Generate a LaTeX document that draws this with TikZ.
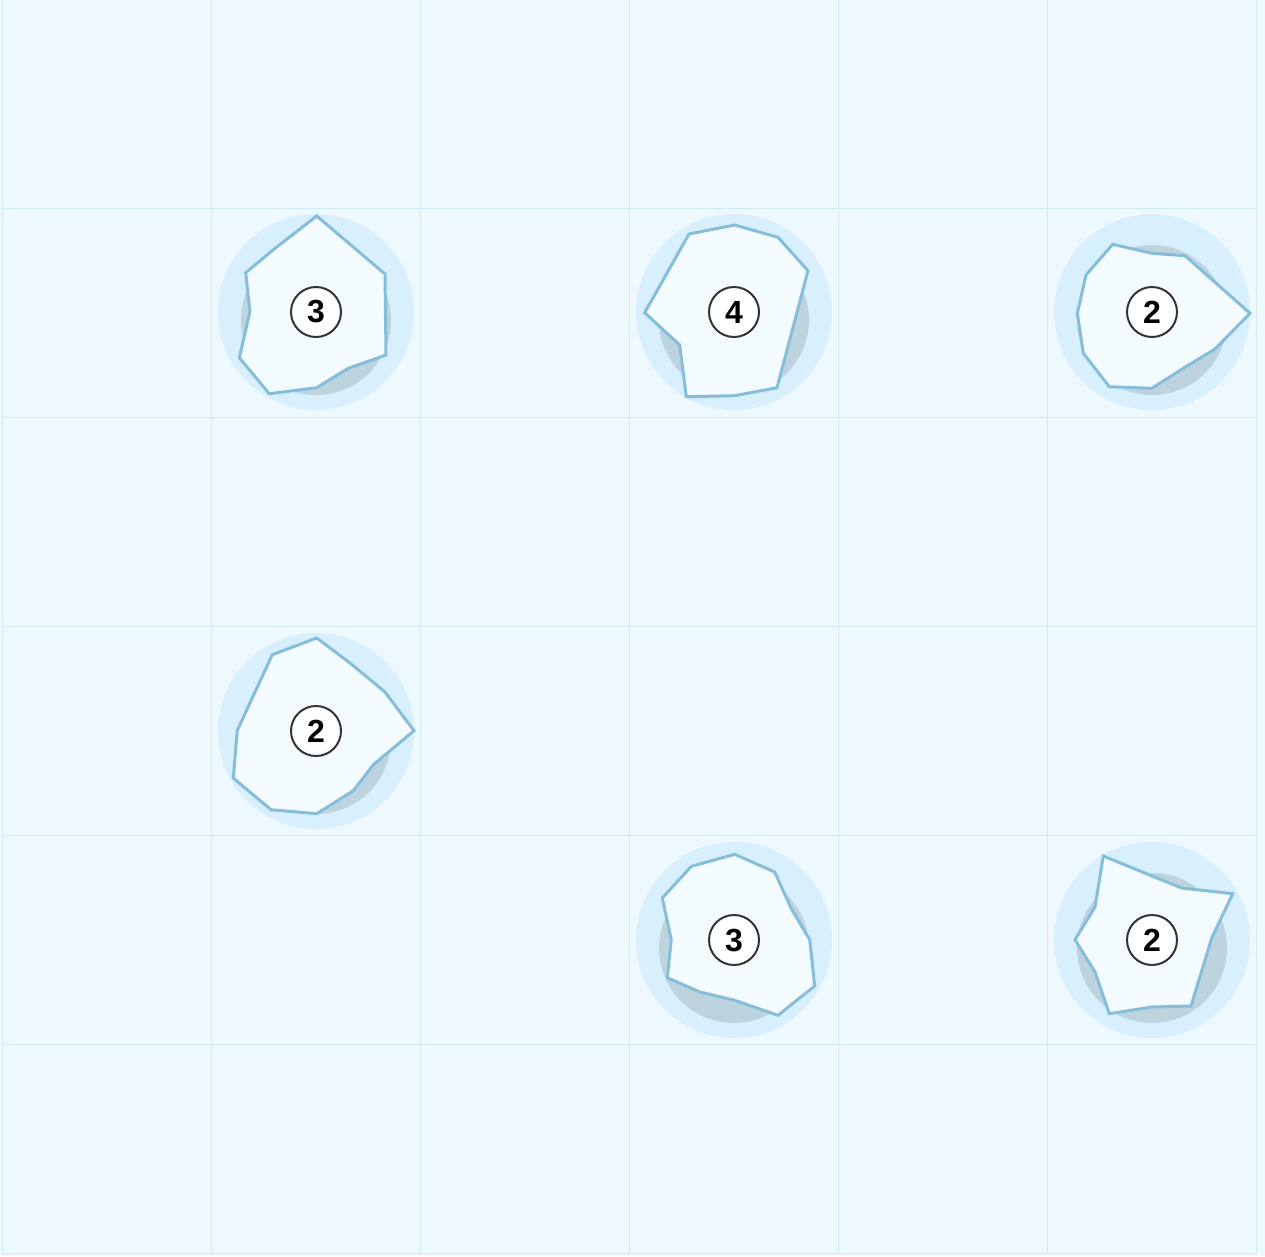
\documentclass[tikz,border=0pt]{standalone}
\usepackage{fontspec}
\setmainfont{Liberation Sans}
\definecolor{bgc}{HTML}{EEF8FF}
\definecolor{gridc}{HTML}{CFE9F9}
\definecolor{haloc}{HTML}{D8F0FD}
\definecolor{shadowc}{HTML}{BDD4DF}
\definecolor{polyfill}{HTML}{F3FBFF}
\definecolor{polyline}{HTML}{86BED9}
\definecolor{badgeline}{HTML}{333333}
\tikzset{
  gridline/.style={draw=gridc, line width=1.6pt},
  halo/.style={fill=haloc},
  shadowdisc/.style={fill=shadowc},
  rock/.style={fill=polyfill, draw=polyline, line width=3pt, line join=miter},
  badge/.style={circle, fill=white, draw=badgeline, line width=2pt, minimum size=50pt, inner sep=0pt, font=\fontsize{32}{32}\selectfont\bfseries}
}
\begin{document}
\begin{tikzpicture}[x=1pt,y=-1pt]
\fill[bgc] (0,0) rectangle (1265,1256);
\useasboundingbox (0,0) rectangle (1265,1256);
% grid
\foreach \i in {0,...,6}{
  \draw[gridline] ({2.5+209*\i},-0.5) -- ({2.5+209*\i},1253.5);
  \draw[gridline] (2.5,{-0.5+209*\i}) -- (1256.5,{-0.5+209*\i});
}
% halos and shadows
\foreach \cx/\cy in {316/312, 734/312, 1152/312, 316/731, 734/940, 1152/940}{
  \fill[halo] (\cx,\cy) circle[radius=98];
  \fill[shadowdisc] (\cx,\cy+8) circle[radius=75];
}
% rocks
\draw[rock] (316.7,216) -- (385,274) -- (386,355) -- (348.3,368.3) -- (316.7,387.7) -- (269.3,393.7) -- (239.3,357.7) -- (250,311.7) -- (245.7,272.7) -- (273,250) -- cycle;
\draw[rock] (734.7,225) -- (778,237.3) -- (808,270.7) -- (777,387.7) -- (734.7,395.7) -- (686.3,396.7) -- (679.7,345) -- (644.7,312.7) -- (689,234) -- cycle;
\draw[rock] (1151.7,253.3) -- (1185,255.7) -- (1250,313.3) -- (1215,349) -- (1183.3,368.3) -- (1151.7,388.3) -- (1109.3,386.7) -- (1083.3,353.3) -- (1077.3,313.3) -- (1086,275) -- (1112.7,244.3) -- cycle;
\draw[rock] (316.7,638) -- (350,663) -- (385,692) -- (414,730.7) -- (373.3,764.7) -- (353.3,790.7) -- (316.7,813.7) -- (271,809.7) -- (233.3,778) -- (237.3,730.3) -- (272.3,654.7) -- cycle;
\draw[rock] (734.7,854.3) -- (774.7,872) -- (791.3,908.7) -- (809.7,939.7) -- (814.7,986) -- (778,1015.3) -- (734.7,1000.3) -- (700,992) -- (667.3,977.7) -- (671.3,939.7) -- (662.3,898) -- (691.3,866.3) -- cycle;
\draw[rock] (1103.3,856) -- (1152,876) -- (1181.7,888) -- (1232.7,893.7) -- (1211.7,938) -- (1191,1006) -- (1151.7,1007) -- (1109.3,1013.7) -- (1095,972) -- (1075,939.7) -- (1095,907) -- cycle;
% badges
\node[badge] (b1) at (316,312) {3};
\node[badge] (b2) at (734,312) {4};
\node[badge] (b3) at (1152,312) {2};
\node[badge] (b4) at (316,731) {2};
\node[badge] (b5) at (734,940) {3};
\node[badge] (b6) at (1152,940) {2};
\end{tikzpicture}
\end{document}
